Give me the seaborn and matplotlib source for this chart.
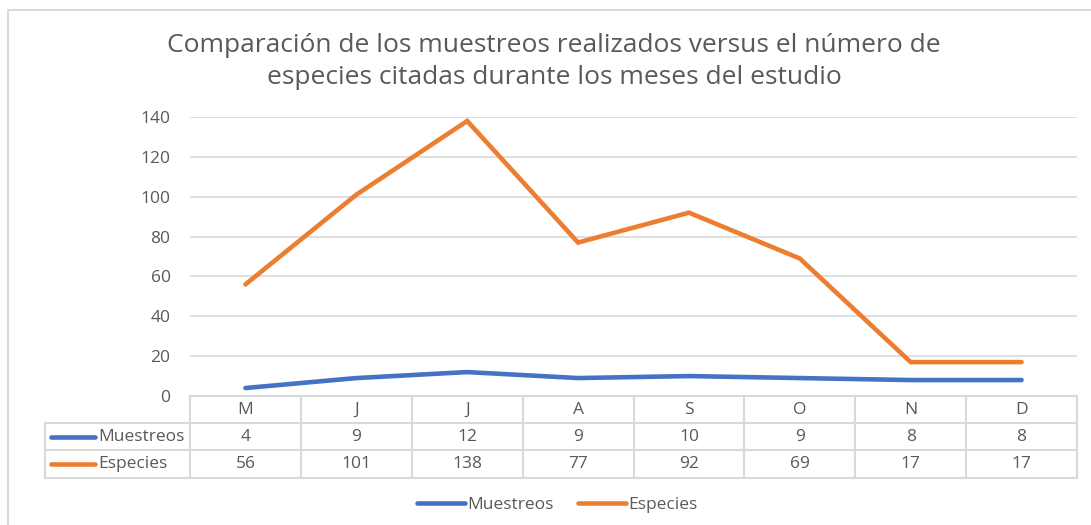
import pandas as pd
import seaborn as sns
import matplotlib.pyplot as plt
import matplotlib.transforms as mtransforms
from matplotlib.lines import Line2D
from matplotlib.patches import Rectangle

meses = ["M", "J", "J", "A", "S", "O", "N", "D"]
muestreos = [4, 9, 12, 9, 10, 9, 8, 8]
especies = [56, 101, 138, 77, 92, 69, 17, 17]

series_names = ["Muestreos", "Especies"]
colors = ["#4472C4", "#ED7D31"]
grid_c = "#D9D9D9"
text_c = "#595959"

df = pd.DataFrame({
    "pos": list(range(len(meses))) * 2,
    "valor": muestreos + especies,
    "serie": ["Muestreos"] * len(meses) + ["Especies"] * len(meses),
})

sns.set_style("white")
plt.rcParams["font.family"] = ["Open Sans", "DejaVu Sans"]

W, H = 1091, 525
fig = plt.figure(figsize=(W / 100, H / 100), dpi=100)
ax = fig.add_axes([190 / W, 1 - 396 / H, (1077 - 190) / W, (396 - 117) / H])

sns.lineplot(data=df, x="pos", y="valor", hue="serie", hue_order=series_names,
             palette=colors, linewidth=3.3, ax=ax, legend=False,
             solid_capstyle="round", solid_joinstyle="miter")

ax.set_xlim(-0.5, len(meses) - 0.5)
ax.set_ylim(0, 140)
ax.set_yticks(range(0, 141, 20))
ax.set_xticks([])
ax.set_xlabel("")
ax.set_ylabel("")
ax.tick_params(axis="y", length=0, pad=14, labelsize=12.5, labelcolor=text_c)
ax.grid(axis="y", color=grid_c, linewidth=1.2)
ax.set_axisbelow(True)
for s in ax.spines.values():
    s.set_visible(False)

# chart border
fig.patches.append(Rectangle((8 / W, -0.1), 1.2, 1 - 10 / H + 0.1, transform=fig.transFigure,
                             fill=False, edgecolor=grid_c, linewidth=1.5))

# title
title_kw = dict(ha="center", va="center", fontsize=19, color=text_c)
fig.text(554 / W, 1 - 46 / H, "Comparación de los muestreos realizados versus el número de", **title_kw)
fig.text(554 / W, 1 - 78 / H, "especies citadas durante los meses del estudio", **title_kw)

# data table
blend = mtransforms.blended_transform_factory(ax.transData, ax.transAxes)
ph = 396 - 117
pw = 1077 - 190


def yf(py):
    return (396 - py) / ph


def xf(px):
    return (px - 190) / pw


rows_y = [396, 423, 450, 478]
n = len(meses)
lkw = dict(color=grid_c, linewidth=1.5, clip_on=False)
ax.add_line(Line2D([0, 1], [yf(396), yf(396)], transform=ax.transAxes, **lkw))
for py in rows_y[1:]:
    ax.add_line(Line2D([xf(45), 1], [yf(py), yf(py)], transform=ax.transAxes, **lkw))
for i in range(n + 1):
    ax.add_line(Line2D([i - 0.5, i - 0.5], [yf(396), yf(478)], transform=blend, **lkw))
ax.add_line(Line2D([xf(45), xf(45)], [yf(423), yf(478)], transform=ax.transAxes, **lkw))

fs = 12.5
for i, m in enumerate(meses):
    ax.text(i, yf(410), m, transform=blend, ha="center", va="center", fontsize=fs, color=text_c)
    ax.text(i, yf(437), str(muestreos[i]), transform=blend, ha="center", va="center", fontsize=fs, color=text_c)
    ax.text(i, yf(464), str(especies[i]), transform=blend, ha="center", va="center", fontsize=fs, color=text_c)

for name, c, py in zip(series_names, colors, [437, 464]):
    ax.add_line(Line2D([xf(51), xf(95)], [yf(py), yf(py)], transform=ax.transAxes,
                       color=c, linewidth=3.3, solid_capstyle="round", clip_on=False))
    ax.text(xf(98), yf(py), name, transform=ax.transAxes, ha="left", va="center",
            fontsize=fs, color=text_c)

# bottom legend
handles = [Line2D([0], [0], color=c, linewidth=3.3, solid_capstyle="round") for c in colors]
fig.legend(handles, series_names, loc="center", bbox_to_anchor=(557 / W, 1 - 505 / H),
           ncol=2, frameon=False, fontsize=fs, labelcolor=text_c, handlelength=2.8,
           handletextpad=0.1, columnspacing=1.4)

fig.savefig("out.png", dpi=100)
